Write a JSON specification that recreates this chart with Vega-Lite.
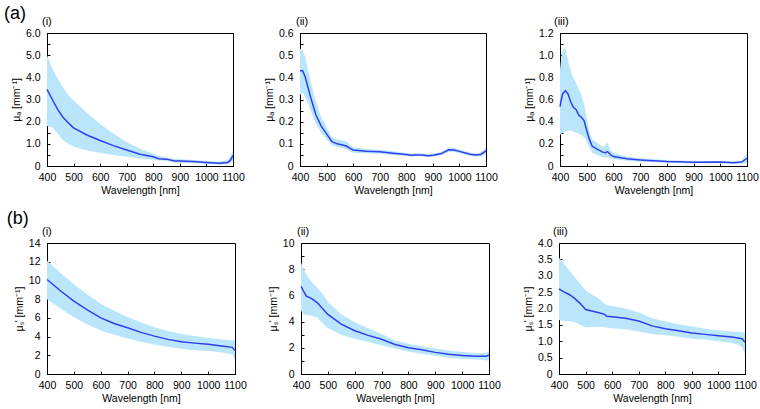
{
  "$schema": "https://vega.github.io/schema/vega-lite/v6.json",
  "background": "white",
  "padding": {"left": 3, "top": 4, "right": 2, "bottom": 2},
  "spacing": 12,
  "config": {
    "font": "Liberation Sans",
    "view": {"stroke": "black", "strokeWidth": 1},
    "axis": {
      "grid": false,
      "labelFont": "Liberation Sans",
      "titleFont": "Liberation Sans",
      "labelFontSize": 10.5,
      "titleFontSize": 10.5,
      "titleFontWeight": "normal",
      "labelColor": "black",
      "titleColor": "black",
      "domainColor": "black",
      "tickColor": "black",
      "tickSize": -3,
      "tickWidth": 1,
      "labelOverlap": false,
      "labelFlush": false,
      "labelBound": false
    },
    "axisX": {"labelPadding": 9, "titlePadding": 3},
    "axisY": {"labelPadding": 10, "titlePadding": 4},
    "title": {"font": "Liberation Sans", "color": "black", "fontWeight": "normal"}
  },
  "datasets": {
    "a1": [
      {"w": 400, "mean": 3.46, "lo": 1.81, "hi": 5.0},
      {"w": 420, "mean": 3.0, "lo": 1.75, "hi": 4.4},
      {"w": 440, "mean": 2.55, "lo": 1.47, "hi": 3.95},
      {"w": 460, "mean": 2.2, "lo": 1.16, "hi": 3.55},
      {"w": 480, "mean": 1.95, "lo": 1.0, "hi": 3.2},
      {"w": 500, "mean": 1.72, "lo": 0.88, "hi": 2.95},
      {"w": 550, "mean": 1.4, "lo": 0.7, "hi": 2.4},
      {"w": 600, "mean": 1.15, "lo": 0.6, "hi": 1.9},
      {"w": 650, "mean": 0.92, "lo": 0.5, "hi": 1.45},
      {"w": 700, "mean": 0.72, "lo": 0.42, "hi": 1.08},
      {"w": 750, "mean": 0.53, "lo": 0.34, "hi": 0.78},
      {"w": 800, "mean": 0.42, "lo": 0.28, "hi": 0.55},
      {"w": 820, "mean": 0.33, "lo": 0.25, "hi": 0.45},
      {"w": 850, "mean": 0.31, "lo": 0.22, "hi": 0.4},
      {"w": 880, "mean": 0.23, "lo": 0.16, "hi": 0.32},
      {"w": 900, "mean": 0.22, "lo": 0.15, "hi": 0.3},
      {"w": 950, "mean": 0.2, "lo": 0.12, "hi": 0.27},
      {"w": 1000, "mean": 0.16, "lo": 0.09, "hi": 0.23},
      {"w": 1050, "mean": 0.12, "lo": 0.06, "hi": 0.2},
      {"w": 1080, "mean": 0.16, "lo": 0.08, "hi": 0.26},
      {"w": 1090, "mean": 0.25, "lo": 0.12, "hi": 0.42},
      {"w": 1100, "mean": 0.48, "lo": 0.25, "hi": 0.72}
    ],
    "a2": [
      {"w": 400, "mean": 0.43, "lo": 0.32, "hi": 0.53},
      {"w": 410, "mean": 0.43, "lo": 0.33, "hi": 0.52},
      {"w": 420, "mean": 0.40, "lo": 0.31, "hi": 0.49},
      {"w": 440, "mean": 0.31, "lo": 0.25, "hi": 0.38},
      {"w": 460, "mean": 0.23, "lo": 0.19, "hi": 0.29},
      {"w": 480, "mean": 0.18, "lo": 0.15, "hi": 0.22},
      {"w": 500, "mean": 0.145, "lo": 0.12, "hi": 0.175},
      {"w": 520, "mean": 0.11, "lo": 0.095, "hi": 0.13},
      {"w": 540, "mean": 0.10, "lo": 0.085, "hi": 0.12},
      {"w": 560, "mean": 0.095, "lo": 0.08, "hi": 0.115},
      {"w": 575, "mean": 0.09, "lo": 0.075, "hi": 0.11},
      {"w": 590, "mean": 0.078, "lo": 0.065, "hi": 0.092},
      {"w": 600, "mean": 0.072, "lo": 0.06, "hi": 0.085},
      {"w": 650, "mean": 0.067, "lo": 0.057, "hi": 0.077},
      {"w": 700, "mean": 0.064, "lo": 0.055, "hi": 0.073},
      {"w": 750, "mean": 0.058, "lo": 0.05, "hi": 0.066},
      {"w": 800, "mean": 0.052, "lo": 0.045, "hi": 0.059},
      {"w": 820, "mean": 0.048, "lo": 0.042, "hi": 0.055},
      {"w": 830, "mean": 0.05, "lo": 0.044, "hi": 0.057},
      {"w": 860, "mean": 0.05, "lo": 0.044, "hi": 0.057},
      {"w": 880, "mean": 0.046, "lo": 0.04, "hi": 0.053},
      {"w": 900, "mean": 0.048, "lo": 0.042, "hi": 0.055},
      {"w": 930, "mean": 0.055, "lo": 0.048, "hi": 0.063},
      {"w": 960, "mean": 0.073, "lo": 0.064, "hi": 0.083},
      {"w": 980, "mean": 0.072, "lo": 0.063, "hi": 0.081},
      {"w": 1000, "mean": 0.066, "lo": 0.058, "hi": 0.075},
      {"w": 1040, "mean": 0.053, "lo": 0.045, "hi": 0.061},
      {"w": 1060, "mean": 0.05, "lo": 0.043, "hi": 0.058},
      {"w": 1080, "mean": 0.052, "lo": 0.044, "hi": 0.06},
      {"w": 1100, "mean": 0.068, "lo": 0.052, "hi": 0.085}
    ],
    "a3": [
      {"w": 400, "mean": 0.535, "lo": 0.28, "hi": 0.87},
      {"w": 405, "mean": 0.6, "lo": 0.29, "hi": 0.98},
      {"w": 410, "mean": 0.65, "lo": 0.3, "hi": 1.05},
      {"w": 420, "mean": 0.68, "lo": 0.31, "hi": 1.06},
      {"w": 430, "mean": 0.65, "lo": 0.32, "hi": 0.95},
      {"w": 440, "mean": 0.58, "lo": 0.32, "hi": 0.86},
      {"w": 450, "mean": 0.53, "lo": 0.31, "hi": 0.79},
      {"w": 460, "mean": 0.51, "lo": 0.30, "hi": 0.75},
      {"w": 470, "mean": 0.46, "lo": 0.29, "hi": 0.70},
      {"w": 480, "mean": 0.44, "lo": 0.28, "hi": 0.64},
      {"w": 490, "mean": 0.41, "lo": 0.26, "hi": 0.56},
      {"w": 500, "mean": 0.32, "lo": 0.22, "hi": 0.43},
      {"w": 510, "mean": 0.24, "lo": 0.17, "hi": 0.31},
      {"w": 520, "mean": 0.18, "lo": 0.12, "hi": 0.24},
      {"w": 540, "mean": 0.15, "lo": 0.10, "hi": 0.21},
      {"w": 560, "mean": 0.125, "lo": 0.08, "hi": 0.17},
      {"w": 570, "mean": 0.12, "lo": 0.078, "hi": 0.19},
      {"w": 578, "mean": 0.13, "lo": 0.078, "hi": 0.21},
      {"w": 590, "mean": 0.10, "lo": 0.068, "hi": 0.14},
      {"w": 600, "mean": 0.085, "lo": 0.06, "hi": 0.12},
      {"w": 650, "mean": 0.065, "lo": 0.048, "hi": 0.085},
      {"w": 700, "mean": 0.055, "lo": 0.04, "hi": 0.07},
      {"w": 800, "mean": 0.04, "lo": 0.03, "hi": 0.055},
      {"w": 900, "mean": 0.033, "lo": 0.025, "hi": 0.045},
      {"w": 1000, "mean": 0.035, "lo": 0.025, "hi": 0.045},
      {"w": 1050, "mean": 0.03, "lo": 0.02, "hi": 0.042},
      {"w": 1080, "mean": 0.035, "lo": 0.022, "hi": 0.048},
      {"w": 1100, "mean": 0.07, "lo": 0.03, "hi": 0.12}
    ],
    "b1": [
      {"w": 400, "mean": 10.1, "lo": 8.0, "hi": 12.1},
      {"w": 450, "mean": 8.9, "lo": 7.0, "hi": 10.8},
      {"w": 500, "mean": 7.8, "lo": 6.1, "hi": 9.6},
      {"w": 550, "mean": 6.85, "lo": 5.3, "hi": 8.5},
      {"w": 600, "mean": 6.0, "lo": 4.65, "hi": 7.5},
      {"w": 650, "mean": 5.4, "lo": 4.2, "hi": 6.75},
      {"w": 700, "mean": 4.95, "lo": 3.8, "hi": 6.1},
      {"w": 750, "mean": 4.45, "lo": 3.45, "hi": 5.5},
      {"w": 800, "mean": 4.05, "lo": 3.15, "hi": 5.0},
      {"w": 850, "mean": 3.7, "lo": 2.9, "hi": 4.6},
      {"w": 900, "mean": 3.45, "lo": 2.7, "hi": 4.3},
      {"w": 950, "mean": 3.3, "lo": 2.55, "hi": 4.05},
      {"w": 1000, "mean": 3.17, "lo": 2.45, "hi": 3.85},
      {"w": 1050, "mean": 3.0, "lo": 2.3, "hi": 3.7},
      {"w": 1090, "mean": 2.85, "lo": 2.1, "hi": 3.6},
      {"w": 1100, "mean": 2.5, "lo": 1.5, "hi": 3.6}
    ],
    "b2": [
      {"w": 400, "mean": 6.7, "lo": 4.8, "hi": 8.5},
      {"w": 410, "mean": 6.3, "lo": 4.6, "hi": 8.0},
      {"w": 420, "mean": 5.95, "lo": 4.5, "hi": 7.6},
      {"w": 440, "mean": 5.75, "lo": 4.45, "hi": 7.0},
      {"w": 460, "mean": 5.45, "lo": 4.3, "hi": 6.6},
      {"w": 480, "mean": 5.0, "lo": 3.9, "hi": 6.1},
      {"w": 500, "mean": 4.55, "lo": 3.5, "hi": 5.5},
      {"w": 550, "mean": 3.8, "lo": 3.0, "hi": 4.55},
      {"w": 600, "mean": 3.3, "lo": 2.7, "hi": 3.95},
      {"w": 650, "mean": 2.95, "lo": 2.45, "hi": 3.5},
      {"w": 700, "mean": 2.65, "lo": 2.2, "hi": 3.05},
      {"w": 750, "mean": 2.25, "lo": 1.95, "hi": 2.55},
      {"w": 800, "mean": 2.0, "lo": 1.7, "hi": 2.3},
      {"w": 850, "mean": 1.85, "lo": 1.55, "hi": 2.12},
      {"w": 900, "mean": 1.65, "lo": 1.4, "hi": 1.95},
      {"w": 950, "mean": 1.5, "lo": 1.25, "hi": 1.8},
      {"w": 1000, "mean": 1.42, "lo": 1.15, "hi": 1.68},
      {"w": 1050, "mean": 1.35, "lo": 1.1, "hi": 1.6},
      {"w": 1090, "mean": 1.35, "lo": 1.05, "hi": 1.6},
      {"w": 1100, "mean": 1.45, "lo": 1.0, "hi": 1.8}
    ],
    "b3": [
      {"w": 400, "mean": 2.6, "lo": 1.65, "hi": 3.55},
      {"w": 420, "mean": 2.5, "lo": 1.62, "hi": 3.35},
      {"w": 440, "mean": 2.42, "lo": 1.61, "hi": 3.15},
      {"w": 460, "mean": 2.3, "lo": 1.58, "hi": 2.95},
      {"w": 480, "mean": 2.15, "lo": 1.5, "hi": 2.75},
      {"w": 500, "mean": 1.97, "lo": 1.43, "hi": 2.55},
      {"w": 550, "mean": 1.87, "lo": 1.44, "hi": 2.3},
      {"w": 570, "mean": 1.83, "lo": 1.43, "hi": 2.15},
      {"w": 580, "mean": 1.76, "lo": 1.42, "hi": 2.1},
      {"w": 600, "mean": 1.75, "lo": 1.4, "hi": 2.08},
      {"w": 650, "mean": 1.7, "lo": 1.37, "hi": 2.0},
      {"w": 700, "mean": 1.62, "lo": 1.3, "hi": 1.88},
      {"w": 750, "mean": 1.47, "lo": 1.22, "hi": 1.7},
      {"w": 800, "mean": 1.38, "lo": 1.18, "hi": 1.6},
      {"w": 850, "mean": 1.32, "lo": 1.14, "hi": 1.52},
      {"w": 900, "mean": 1.25, "lo": 1.08, "hi": 1.45},
      {"w": 950, "mean": 1.21, "lo": 1.05, "hi": 1.38},
      {"w": 1000, "mean": 1.17, "lo": 1.0, "hi": 1.33},
      {"w": 1050, "mean": 1.13, "lo": 0.95, "hi": 1.3},
      {"w": 1080, "mean": 1.09, "lo": 0.88, "hi": 1.28},
      {"w": 1090, "mean": 1.07, "lo": 0.8, "hi": 1.28},
      {"w": 1100, "mean": 0.97, "lo": 0.6, "hi": 1.25}
    ]
  },
  "vconcat": [
    {
      "title": {"text": "(a)", "anchor": "start", "frame": "bounds", "fontSize": 18, "dx": -7, "dy": 7, "offset": 0},
      "spacing": 18,
      "hconcat": [
        {
          "width": 186, "height": 133,
          "title": {"text": "(i)", "anchor": "start", "frame": "group", "fontSize": 11, "dx": -5, "offset": 1},
          "data": {"name": "a1"},
          "encoding": {"x": {"field": "w", "type": "quantitative", "scale": {"domain": [400, 1100], "nice": false}, "axis": {"values": [400, 500, 600, 700, 800, 900, 1000, 1100], "format": "d", "title": "Wavelength [nm]"}}},
          "layer": [
            {"mark": {"type": "area", "color": "#b9e6fa", "opacity": 1}, "encoding": {"y": {"field": "lo", "type": "quantitative", "scale": {"domain": [0, 6], "nice": false}, "axis": {"title": "μₐ [mm⁻¹]", "values": [0, 0.5, 1, 1.5, 2, 2.5, 3, 3.5, 4, 4.5, 5, 5.5, 6], "labelExpr": "round(datum.value*10) % 10 == 0 ? (datum.value == 0 ? '0' : format(datum.value, '.1f')) : ''"}}, "y2": {"field": "hi"}}},
            {"mark": {"type": "line", "color": "#2f3ff0", "strokeWidth": 1.5}, "encoding": {"y": {"field": "mean", "type": "quantitative", "scale": {"domain": [0, 6], "nice": false}, "axis": {"title": "μₐ [mm⁻¹]", "values": [0, 0.5, 1, 1.5, 2, 2.5, 3, 3.5, 4, 4.5, 5, 5.5, 6], "labelExpr": "round(datum.value*10) % 10 == 0 ? (datum.value == 0 ? '0' : format(datum.value, '.1f')) : ''"}}}}
          ]
        },
        {
          "spacing": 25,
          "hconcat": [
            {
              "width": 186, "height": 133,
              "title": {"text": "(ii)", "anchor": "start", "frame": "group", "fontSize": 11, "dx": -4, "offset": 1},
              "data": {"name": "a2"},
              "encoding": {"x": {"field": "w", "type": "quantitative", "scale": {"domain": [400, 1100], "nice": false}, "axis": {"values": [400, 500, 600, 700, 800, 900, 1000, 1100], "format": "d", "title": "Wavelength [nm]"}}},
              "layer": [
                {"mark": {"type": "area", "color": "#b9e6fa", "opacity": 1}, "encoding": {"y": {"field": "lo", "type": "quantitative", "scale": {"domain": [0, 0.6], "nice": false}, "axis": {"title": "μₐ [mm⁻¹]", "values": [0, 0.05, 0.1, 0.15, 0.2, 0.25, 0.3, 0.35, 0.4, 0.45, 0.5, 0.55, 0.6], "labelExpr": "round(datum.value*100) % 10 == 0 ? (datum.value == 0 ? '0' : format(datum.value, '.1f')) : ''"}}, "y2": {"field": "hi"}}},
                {"mark": {"type": "line", "color": "#2f3ff0", "strokeWidth": 1.5}, "encoding": {"y": {"field": "mean", "type": "quantitative", "scale": {"domain": [0, 0.6], "nice": false}, "axis": {"title": "μₐ [mm⁻¹]", "values": [0, 0.05, 0.1, 0.15, 0.2, 0.25, 0.3, 0.35, 0.4, 0.45, 0.5, 0.55, 0.6], "labelExpr": "round(datum.value*100) % 10 == 0 ? (datum.value == 0 ? '0' : format(datum.value, '.1f')) : ''"}}}}
              ]
            },
            {
              "width": 187, "height": 133,
              "title": {"text": "(iii)", "anchor": "start", "frame": "group", "fontSize": 11, "dx": -6, "offset": 1},
              "data": {"name": "a3"},
              "encoding": {"x": {"field": "w", "type": "quantitative", "scale": {"domain": [400, 1100], "nice": false}, "axis": {"values": [400, 500, 600, 700, 800, 900, 1000, 1100], "format": "d", "title": "Wavelength [nm]"}}},
              "layer": [
                {"mark": {"type": "area", "color": "#b9e6fa", "opacity": 1}, "encoding": {"y": {"field": "lo", "type": "quantitative", "scale": {"domain": [0, 1.2], "nice": false}, "axis": {"title": "μₐ [mm⁻¹]", "values": [0, 0.1, 0.2, 0.3, 0.4, 0.5, 0.6, 0.7, 0.8, 0.9, 1.0, 1.1, 1.2], "labelExpr": "round(datum.value*10) % 2 == 0 ? (datum.value == 0 ? '0' : format(datum.value, '.1f')) : ''"}}, "y2": {"field": "hi"}}},
                {"mark": {"type": "line", "color": "#2f3ff0", "strokeWidth": 1.5}, "encoding": {"y": {"field": "mean", "type": "quantitative", "scale": {"domain": [0, 1.2], "nice": false}, "axis": {"title": "μₐ [mm⁻¹]", "values": [0, 0.1, 0.2, 0.3, 0.4, 0.5, 0.6, 0.7, 0.8, 0.9, 1.0, 1.1, 1.2], "labelExpr": "round(datum.value*10) % 2 == 0 ? (datum.value == 0 ? '0' : format(datum.value, '.1f')) : ''"}}}}
              ]
            }
          ]
        }
      ]
    },
    {
      "title": {"text": "(b)", "anchor": "start", "frame": "bounds", "fontSize": 18, "dx": -7, "dy": 2, "offset": 0},
      "spacing": 20,
      "hconcat": [
        {
          "width": 188, "height": 131,
          "title": {"text": "(i)", "anchor": "start", "frame": "group", "fontSize": 11, "dx": -5, "offset": 1},
          "data": {"name": "b1"},
          "encoding": {"x": {"field": "w", "type": "quantitative", "scale": {"domain": [400, 1100], "nice": false}, "axis": {"values": [400, 500, 600, 700, 800, 900, 1000, 1100], "format": "d", "title": "Wavelength [nm]"}}},
          "layer": [
            {"mark": {"type": "area", "color": "#b9e6fa", "opacity": 1}, "encoding": {"y": {"field": "lo", "type": "quantitative", "scale": {"domain": [0, 14], "nice": false}, "axis": {"title": "μₛ' [mm⁻¹]", "values": [0, 2, 4, 6, 8, 10, 12, 14], "format": "d"}}, "y2": {"field": "hi"}}},
            {"mark": {"type": "line", "color": "#2f3ff0", "strokeWidth": 1.5}, "encoding": {"y": {"field": "mean", "type": "quantitative", "scale": {"domain": [0, 14], "nice": false}, "axis": {"title": "μₛ' [mm⁻¹]", "values": [0, 2, 4, 6, 8, 10, 12, 14], "format": "d"}}}}
          ]
        },
        {
          "spacing": 21,
          "hconcat": [
            {
              "width": 188, "height": 131,
              "title": {"text": "(ii)", "anchor": "start", "frame": "group", "fontSize": 11, "dx": -4, "offset": 1},
              "data": {"name": "b2"},
              "encoding": {"x": {"field": "w", "type": "quantitative", "scale": {"domain": [400, 1100], "nice": false}, "axis": {"values": [400, 500, 600, 700, 800, 900, 1000, 1100], "format": "d", "title": "Wavelength [nm]"}}},
              "layer": [
                {"mark": {"type": "area", "color": "#b9e6fa", "opacity": 1}, "encoding": {"y": {"field": "lo", "type": "quantitative", "scale": {"domain": [0, 10], "nice": false}, "axis": {"title": "μₛ' [mm⁻¹]", "values": [0, 1, 2, 3, 4, 5, 6, 7, 8, 9, 10], "labelExpr": "datum.value % 2 == 0 ? format(datum.value, 'd') : ''"}}, "y2": {"field": "hi"}}},
                {"mark": {"type": "line", "color": "#2f3ff0", "strokeWidth": 1.5}, "encoding": {"y": {"field": "mean", "type": "quantitative", "scale": {"domain": [0, 10], "nice": false}, "axis": {"title": "μₛ' [mm⁻¹]", "values": [0, 1, 2, 3, 4, 5, 6, 7, 8, 9, 10], "labelExpr": "datum.value % 2 == 0 ? format(datum.value, 'd') : ''"}}}}
              ]
            },
            {
              "width": 186, "height": 131,
              "title": {"text": "(iii)", "anchor": "start", "frame": "group", "fontSize": 11, "dx": -6, "offset": 1},
              "data": {"name": "b3"},
              "encoding": {"x": {"field": "w", "type": "quantitative", "scale": {"domain": [400, 1100], "nice": false}, "axis": {"values": [400, 500, 600, 700, 800, 900, 1000, 1100], "format": "d", "title": "Wavelength [nm]"}}},
              "layer": [
                {"mark": {"type": "area", "color": "#b9e6fa", "opacity": 1}, "encoding": {"y": {"field": "lo", "type": "quantitative", "scale": {"domain": [0, 4], "nice": false}, "axis": {"title": "μₛ' [mm⁻¹]", "values": [0, 0.5, 1, 1.5, 2, 2.5, 3, 3.5, 4], "labelExpr": "datum.value == 0 ? '0' : format(datum.value, '.1f')"}}, "y2": {"field": "hi"}}},
                {"mark": {"type": "line", "color": "#2f3ff0", "strokeWidth": 1.5}, "encoding": {"y": {"field": "mean", "type": "quantitative", "scale": {"domain": [0, 4], "nice": false}, "axis": {"title": "μₛ' [mm⁻¹]", "values": [0, 0.5, 1, 1.5, 2, 2.5, 3, 3.5, 4], "labelExpr": "datum.value == 0 ? '0' : format(datum.value, '.1f')"}}}}
              ]
            }
          ]
        }
      ]
    }
  ]
}
